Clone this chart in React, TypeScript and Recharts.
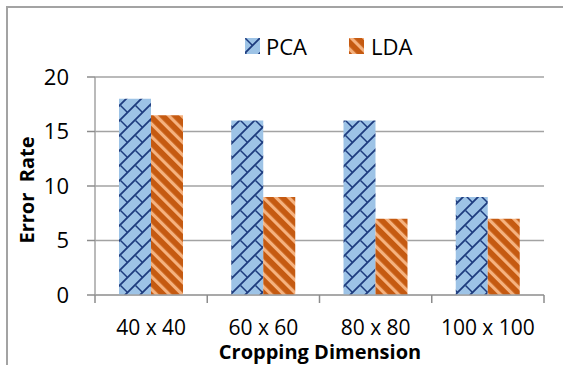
import React from "react";
import { BarChart, Bar, XAxis, YAxis, CartesianGrid } from "recharts";

const dimensions = ["40 x 40", "60 x 60", "80 x 80", "100 x 100"];
const pcaErrors = [18, 16, 16, 9];
const ldaErrors = [16.5, 9, 7, 7];
const yTicks = [0, 5, 10, 15, 20];

const rows = dimensions.map((dim, i) => ({ dim, pca: pcaErrors[i], lda: ldaErrors[i] }));

const GRAY = "#a3a3a3";
const TICK_GRAY = "#8c8c8c";
const FONT = "'Open Sans', 'Noto Sans', sans-serif";

// blue with dark navy diagonal-brick lines, orange with light diagonal stripes
function PatternDefs({ prefix }: { prefix: string }) {
  return (
    <defs>
      <pattern id={`${prefix}-pca`} patternUnits="userSpaceOnUse" width={15} height={15}>
        <rect width={15} height={15} fill="#9dc3e6" />
        <path
          d="M-1,16 L16,-1 M-1,1 L1,-1 M14,16 L16,14"
          stroke="#1d3b7e"
          strokeWidth={1.8}
          fill="none"
        />
        <path d="M0.5,0.5 L7.5,7.5" stroke="#1d3b7e" strokeWidth={1.5} fill="none" />
      </pattern>
      <pattern
        id={`${prefix}-lda`}
        patternUnits="userSpaceOnUse"
        width={9}
        height={9}
        patternTransform="rotate(-45)"
      >
        <rect width={9} height={9} fill="#c55a11" />
        <rect x={0} width={3.2} height={9} fill="#f5b27f" />
      </pattern>
    </defs>
  );
}

function Swatch({ kind }: { kind: "pca" | "lda" }) {
  return (
    <svg width={15} height={16} style={{ display: "block" }}>
      <PatternDefs prefix={`sw-${kind}`} />
      <rect width={15} height={16} fill={`url(#sw-${kind}-${kind})`} />
    </svg>
  );
}

// category label plus Excel-style tick marks on the band edges
function CategoryTick(props: any) {
  const { x, y, payload, index, visibleTicksCount, width } = props;
  const half =
    payload && payload.offset ? payload.offset : width && visibleTicksCount ? width / visibleTicksCount / 2 : 0;
  const axisY = y - 25;
  const isLast = index === visibleTicksCount - 1;
  return (
    <g>
      <line x1={x - half} x2={x - half} y1={axisY} y2={axisY + 8} stroke={TICK_GRAY} strokeWidth={1.5} />
      {isLast && (
        <line x1={x + half} x2={x + half} y1={axisY} y2={axisY + 8} stroke={TICK_GRAY} strokeWidth={1.5} />
      )}
      <text x={x} y={y} dy="0.71em" textAnchor="middle" fontSize={21} fill="#000">
        {payload.value}
      </text>
    </g>
  );
}

export default function App() {
  return (
    <div
      style={{
        position: "absolute",
        left: 0,
        top: 0,
        width: 563,
        height: 365,
        background: "#fff",
        fontFamily: FONT,
        overflow: "hidden",
      }}
    >
      {/* chart frame */}
      <div
        style={{
          position: "absolute",
          left: 6,
          top: 6,
          width: 600,
          height: 400,
          borderLeft: `2px solid ${GRAY}`,
          borderTop: `2px solid ${GRAY}`,
        }}
      />

      <BarChart
        width={563}
        height={365}
        data={rows}
        margin={{ top: 77, right: 19, bottom: 69, left: 0 }}
        barSize={32}
        barGap={0}
        style={{ position: "absolute", left: 0, top: 0 }}
      >
        <PatternDefs prefix="bar" />
        <CartesianGrid vertical={false} stroke={GRAY} strokeWidth={1.5} />
        <XAxis
          dataKey="dim"
          height={1}
          interval={0}
          axisLine={{ stroke: GRAY, strokeWidth: 1.5 }}
          tickLine={false}
          tickSize={0}
          tickMargin={25}
          tick={<CategoryTick />}
        />
        <YAxis
          width={95}
          domain={[0, 20]}
          ticks={yTicks}
          tickSize={8}
          tickMargin={18}
          axisLine={{ stroke: GRAY, strokeWidth: 1.5 }}
          tickLine={{ stroke: TICK_GRAY, strokeWidth: 1.5 }}
          tick={{ fontSize: 22, fill: "#000" }}
        />
        <Bar dataKey="pca" fill="url(#bar-pca)" isAnimationActive={false} />
        <Bar dataKey="lda" fill="url(#bar-lda)" isAnimationActive={false} />
      </BarChart>

      {/* legend */}
      <div
        style={{
          position: "absolute",
          left: 245,
          top: 30,
          display: "flex",
          alignItems: "center",
          fontSize: 22,
          lineHeight: "32px",
        }}
      >
        <Swatch kind="pca" />
        <span style={{ marginLeft: 6 }}>PCA</span>
        <span style={{ width: 42 }} />
        <Swatch kind="lda" />
        <span style={{ marginLeft: 7 }}>LDA</span>
      </div>

      {/* axis titles */}
      <div
        style={{
          position: "absolute",
          left: 26,
          top: 190,
          transform: "translate(-50%, -50%) rotate(-90deg)",
          fontSize: 20,
          fontWeight: 700,
          whiteSpace: "pre",
        }}
      >
        {"Error  Rate"}
      </div>
      <div
        style={{
          position: "absolute",
          left: 320,
          top: 352,
          transform: "translate(-50%, -50%)",
          fontSize: 20,
          lineHeight: "20px",
          fontWeight: 700,
          whiteSpace: "nowrap",
        }}
      >
        Cropping Dimension
      </div>
    </div>
  );
}
